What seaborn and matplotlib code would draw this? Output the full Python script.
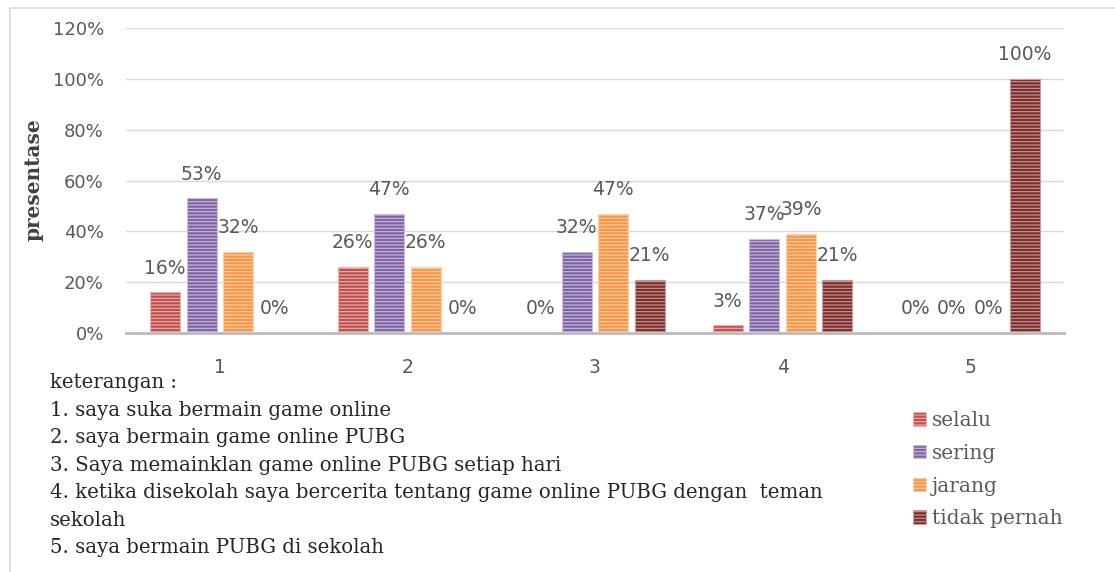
import pandas as pd
import matplotlib
matplotlib.use("Agg")
import matplotlib.pyplot as plt
import seaborn as sns
from matplotlib.ticker import FuncFormatter

# data (percent)
categories = ["1", "2", "3", "4", "5"]
series = ["selalu", "sering", "jarang", "tidak pernah"]
selalu = [16, 26, 0, 3, 0]
sering = [53, 47, 32, 37, 0]
jarang = [32, 26, 47, 39, 0]
tidak_pernah = [0, 0, 21, 21, 100]
colors = ["#C0504D", "#8064A2", "#F79646", "#7B2E2C"]
edge_colors = ["#E9B3B1", "#C9BCDD", "#FCD0AA", "#C99A98"]
y_ticks = [0, 20, 40, 60, 80, 100, 120]
notes = [
    "keterangan :",
    "1. saya suka bermain game online",
    "2. saya bermain game online PUBG",
    "3. Saya memainklan game online PUBG setiap hari",
    "4. ketika disekolah saya bercerita tentang game online PUBG dengan  teman",
    "sekolah",
    "5. saya bermain PUBG di sekolah",
]

df = pd.DataFrame({
    "kategori": categories * 4,
    "keterangan": [s for s in series for _ in categories],
    "nilai": selalu + sering + jarang + tidak_pernah,
})

sns.set_style("white")
plt.rcParams["hatch.linewidth"] = 0.8
grey = "#595959"

fig = plt.figure(figsize=(11.15, 5.72), dpi=100)
ax = fig.add_axes([126 / 1115, 1 - 333 / 572, 938 / 1115, 305 / 572])

sns.barplot(data=df, x="kategori", y="nilai", hue="keterangan",
            hue_order=series, palette=colors, width=0.78, gap=0.18,
            saturation=1, ax=ax, legend=False)

for cont, ec in zip(ax.containers, edge_colors):
    for bar in cont:
        bar.set_hatch("-----")
        bar.set_edgecolor(ec)
        bar.set_linewidth(0.8)
    ax.bar_label(cont, labels=[f"{v:.0f}%" for v in cont.datavalues],
                 padding=10.5, fontsize=13.5, color=grey, family="DejaVu Sans")

ax.set_ylim(0, 120)
ax.set_xlim(-0.5, 4.5)
ax.set_yticks(y_ticks)
ax.yaxis.set_major_formatter(FuncFormatter(lambda v, p: f"{v:.0f}%"))
ax.grid(axis="y", color="#D9D9D9", linewidth=1)
ax.set_axisbelow(True)
for side in ["top", "right", "left"]:
    ax.spines[side].set_visible(False)
ax.spines["bottom"].set_color("#BFBFBF")
ax.spines["bottom"].set_linewidth(2.2)
ax.tick_params(axis="y", length=0, pad=16, labelsize=13, labelcolor=grey)
ax.tick_params(axis="x", length=0, pad=18, labelsize=13.5, labelcolor=grey)
ax.set_xlabel("")
ax.set_ylabel("")
fig.text(33 / 1115, 1 - 180 / 572, "presentase", rotation=90, ha="center",
         va="center", family="DejaVu Serif", fontweight="bold",
         fontsize=14.4, color="#404040")

handles = [plt.Rectangle((0, 0), 1, 1, facecolor=c, edgecolor=e, hatch="-----",
                         linewidth=0.8) for c, e in zip(colors, edge_colors)]
fig.legend(handles, series, loc="upper left",
           bbox_to_anchor=(895 / 1115, 1 - 393 / 572), frameon=False,
           prop={"family": "DejaVu Serif", "size": 14.5},
           labelcolor=grey, handlelength=0.65, handleheight=0.65,
           handletextpad=0.3, labelspacing=0.68)

y0 = 383
for i, line in enumerate(notes):
    fig.text(50 / 1115, 1 - (y0 + i * 27.4) / 572, line, ha="left",
             va="center", family="DejaVu Serif", fontsize=14.2, color="#262626")

# chart frame (left and top edges)
fig.add_artist(plt.Line2D([10 / 1115, 10 / 1115], [0, 1 - 8 / 572],
                          transform=fig.transFigure, color="#D9D9D9", lw=1.2))
fig.add_artist(plt.Line2D([10 / 1115, 1], [1 - 8 / 572, 1 - 8 / 572],
                          transform=fig.transFigure, color="#D9D9D9", lw=1.2))

fig.savefig("out.png", dpi=100)
